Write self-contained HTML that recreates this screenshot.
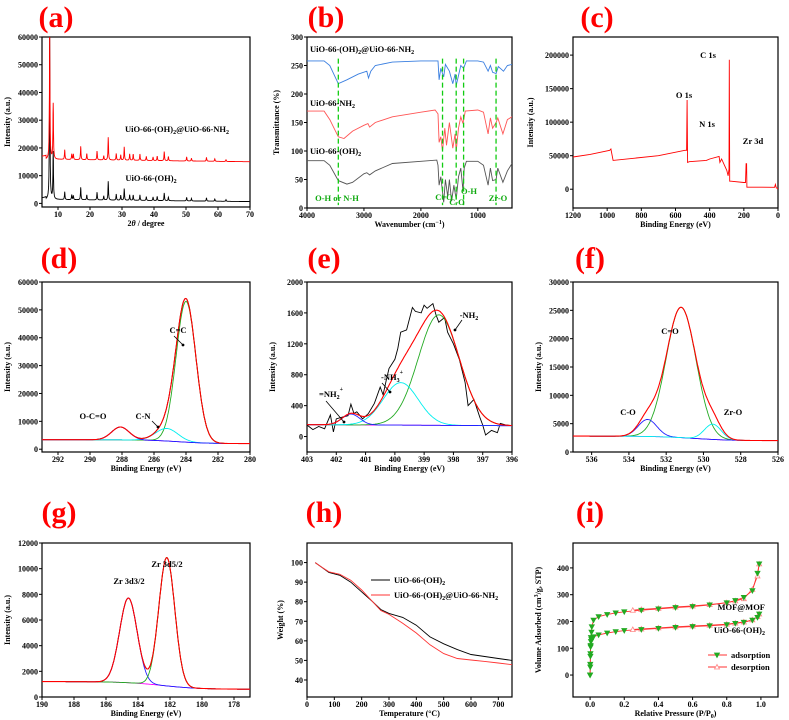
<!DOCTYPE html>
<html><head><meta charset="utf-8"><style>
body{margin:0;background:#fff;width:789px;height:720px;overflow:hidden}
svg{display:block;font-family:"Liberation Serif",serif;font-weight:bold}
</style></head><body>
<svg id="fig" width="789" height="720" viewBox="0 0 789 720"></svg>
<script>
// ===== DATA =====
const xrdPeaks=[7.4,8.5,12.1,14.3,14.8,17.1,19,22.2,24.3,25.7,28.2,29.6,30.7,32.4,33.5,35.6,37.6,39.7,41,43.2,44.5,50.2,51.7,56.4,59,62.5];
const xrdBlack=[60000,17000,2800,1800,1500,4500,1800,2800,1500,6800,2200,1800,4200,2000,1900,2000,1400,1300,1500,2800,1300,1300,900,1200,800,600];
const xrdRed=[46000,20000,3500,2000,2000,4800,2200,3200,1500,8200,2400,1900,4800,2300,2200,2300,1500,1300,1600,3300,1500,1500,1000,1400,900,600];
const ftirBlueX=[4000,3700,3600,3450,3300,3100,2950,2920,2880,2800,2500,2000,1700,1680,1650,1600,1570,1500,1440,1400,1380,1300,1250,1200,1000,900,820,780,740,680,640,550,480,400];
const ftirBlueY=[258,258,250,218,225,235,240,228,240,250,256,258,258,225,245,230,252,240,218,235,215,250,245,258,258,256,240,250,238,236,248,240,250,252];
const ftirRedX=[4000,3700,3600,3450,3350,3200,3000,2930,2900,2800,2500,2000,1750,1700,1680,1650,1620,1580,1550,1500,1440,1400,1380,1340,1300,1260,1220,1000,900,820,780,740,680,650,560,480,400];
const ftirRedY=[170,170,155,125,122,135,145,148,142,150,160,168,172,165,115,125,100,140,110,150,105,130,100,140,160,148,170,172,168,130,158,140,150,158,130,155,160];
const ftirBlackX=[4000,3700,3600,3450,3300,3200,3000,2950,2900,2800,2500,2000,1720,1700,1680,1650,1600,1570,1530,1500,1460,1420,1380,1340,1300,1260,1240,1200,1000,900,820,780,740,680,650,560,480,400];
const ftirBlackY=[83,83,75,48,42,45,60,62,58,65,78,82,84,75,40,55,10,50,20,50,12,40,15,55,70,30,70,82,82,75,40,70,48,50,70,45,65,78];
const ftirMarks=[3450,1620,1380,1250,680];
const surveyX=[1200,1100,985,978,965,700,545,535,532,529,520,420,400,345,340,330,300,292,287,285,283,275,200,190,187,184,182,100,20,15,10,0];
const surveyY=[48000,52000,58000,60000,43000,50000,58000,58000,133000,40000,41000,43000,45000,49000,40000,45000,28000,20000,30000,193000,12000,12000,10000,10000,38000,38000,3000,3000,2800,7000,2000,1000];
const dCenters=[284,285.2,288.1], dHeights=[50500,4500,4600], dWidths=[0.62,0.7,0.55];
const eCenters=[398.5,399.8,401.5], eHeights=[1430,550,140], eWidths=[0.7,0.6,0.3];
const eRawX=[403,402.8,402.6,402.4,402.2,402.1,402.0,401.8,401.6,401.5,401.4,401.3,401.1,400.9,400.7,400.5,400.4,400.3,400.2,400.0,399.9,399.8,399.6,399.4,399.3,399.1,399.0,398.9,398.7,398.6,398.5,398.3,398.2,398.0,397.8,397.6,397.5,397.3,397.1,397.0,396.9,396.7,396.5,396.4,396.2,396];
const eRawY=[150,90,130,100,280,60,230,250,270,420,300,320,230,300,430,640,540,720,880,1000,1140,1350,1380,1670,1620,1600,1700,1660,1720,1580,1480,1540,1350,1200,1000,700,400,480,250,150,20,80,50,170,150,140];
const fCenters=[531.2,533,529.5], fHeights=[23000,3000,2700], fWidths=[0.8,0.5,0.45];
const gCenters=[184.6,182.2], gHeights=[6600,10000], gWidths=[0.55,0.5];
const tgaT=[30,50,80,120,160,200,240,270,300,350,400,450,500,550,600,650,700,750];
const tgaBlack=[100,98,95,93.5,90,85,80,76,74,72,68,62,58.5,55.5,53,52,51,50];
const tgaRed=[100,98,95.3,94,91,86,80,75.5,73.5,69,64,58,53.5,51,50.2,49.5,48.7,47.8];
const pAds=[0,0.001,0.002,0.003,0.005,0.008,0.01,0.02,0.05,0.1,0.15,0.2,0.3,0.4,0.5,0.6,0.7,0.8,0.85,0.9,0.95,0.98,0.99];
const mofAds=[0,30,70,110,140,160,180,205,218,226,232,236,242,247,252,256,262,270,278,290,315,380,415];
const uioAds=[0,40,80,105,125,132,137,143,150,157,162,166,170,174,178,181,184,188,193,197,205,215,228];
const pDes=[0.99,0.98,0.95,0.9,0.85,0.8,0.7,0.6,0.5,0.4,0.3,0.25];
const mofDes=[415,370,320,285,277,270,263,258,254,249,245,242];
const uioDes=[228,218,206,198,194,190,186,183,180,176,172,170];

// ===== helpers =====
const S='http://www.w3.org/2000/svg', fig=document.getElementById('fig');
function mk(tag,attrs,parent){const e=document.createElementNS(S,tag);for(const k in attrs)e.setAttribute(k,attrs[k]);(parent||fig).appendChild(e);return e;}
function txt(x,y,s,size,opts,name){const e=mk('text',Object.assign({x:x,y:y,'font-size':size},opts||{}));e.innerHTML=s;
 
 
 return e;}
function axes(p){
 p.sx=v=>p.x0+(v-p.xmin)/(p.xmax-p.xmin)*(p.x1-p.x0);
 p.sy=v=>p.y1-(v-p.ymin)/(p.ymax-p.ymin)*(p.y1-p.y0);
 const c=mk('clipPath',{id:'c'+p.id});mk('rect',{x:p.x0,y:p.y0,width:p.x1-p.x0,height:p.y1-p.y0},c);
 const r=mk('rect',{x:p.x0,y:p.y0,width:p.x1-p.x0,height:p.y1-p.y0,fill:'none',stroke:'#000','stroke-width':1.2});
 
 
 p.xt.forEach(v=>{const X=p.sx(v);mk('line',{x1:X,x2:X,y1:p.y1,y2:p.y1+3,stroke:'#000'});
  txt(X,p.y1+10,String(v),8,{'text-anchor':'middle'},p.id+'-x-tick-label');});
 p.yt.forEach(v=>{const Y=p.sy(v);mk('line',{x1:p.x0-3,x2:p.x0,y1:Y,y2:Y,stroke:'#000'});
  txt(p.x0-4,Y+3,String(v),8,{'text-anchor':'end'},p.id+'-y-tick-label');});
 txt((p.x0+p.x1)/2,p.y1+19,p.xl,8,{'text-anchor':'middle'},p.id+'-x-axis-title');
 txt(0,0,p.yl,8,{'text-anchor':'middle',transform:`translate(${p.x0-(p.ylo||32)},${(p.y0+p.y1)/2}) rotate(-90)`},p.id+'-y-axis-title');
 txt(p.lx,p.ly,p.lab,30,{fill:'#f00','text-anchor':'middle'},p.id+'-panel-label');
 return p;}
function line(p,xs,ys,col,name,w){const d=xs.map((x,i)=>(i?'L':'M')+p.sx(x).toFixed(1)+','+p.sy(ys[i]).toFixed(1)).join('');
 const e=mk('path',{d:d,fill:'none',stroke:col,'stroke-width':w||0.9,'clip-path':'url(#c'+p.id+')'});
 
 
 return e;}
function grid(a,b,n){const o=[];for(let i=0;i<=n;i++)o.push(a+(b-a)*i/n);return o;}
const gauss=(x,c,h,w)=>h*Math.exp(-0.5*((x-c)/w)**2);
const step=(x,c,lo,hi,w)=>lo+(hi-lo)/(1+Math.exp(-(x-c)/w));
function label(x,y,s,size,name,anchor){return txt(x,y,s,size,{fill:'#000','text-anchor':anchor||'middle'},name);}
function arrow(x1,y1,x2,y2,name){const e=mk('line',{x1:x1,y1:y1,x2:x2,y2:y2,stroke:'#000','stroke-width':0.8});
 
 
 mk('circle',{cx:x2,cy:y2,r:1.4});}
const sub=s=>'<tspan font-size="6" dy="2">'+s+'</tspan><tspan dy="-2">\u200b</tspan>';

// ===== (a) XRD =====
const A=axes({id:'a',x0:42,x1:250,y0:37,y1:207,xmin:5,xmax:70,ymin:-1300,ymax:60000,xt:[10,20,30,40,50,60,70],yt:[0,10000,20000,30000,40000,50000,60000],xl:'2<tspan font-style="italic">θ</tspan> / degree',yl:'Intensity (a.u.)',lab:'(a)',lx:56,ly:27});
const ax=grid(5,70,1300);
line(A,ax,ax.map(x=>(x<6.3?2000:1500-12*x)+xrdPeaks.reduce((s,c,i)=>s+xrdBlack[i]/(1+((x-c)/0.1)**2),0)),'#000','xrd-uio66-oh2-line');
line(A,ax,ax.map(x=>(x<6.3?17000:16000-14*x)+xrdPeaks.reduce((s,c,i)=>s+xrdRed[i]/(1+((x-c)/0.1)**2),0)),'#f00','xrd-mof-at-mof-line');
label(177,132,'UiO-66-(OH)'+sub('2')+'@UiO-66-NH'+sub('2'),8.5,'xrd-red-label');
label(151,181,'UiO-66-(OH)'+sub('2'),8.5,'xrd-black-label');

// ===== (b) FTIR =====
const B=axes({id:'b',x0:307,x1:512,y0:37,y1:208,xmin:4000,xmax:400,ymin:0,ymax:300,xt:[4000,3000,2000,1000],yt:[0,50,100,150,200,250,300],xl:'Wavenumber (cm<tspan font-size="6" dy="-3">−1</tspan><tspan dy="3">)</tspan>',yl:'Transmittance (%)',lab:'(b)',lx:326,ly:27,ylo:28});
line(B,ftirBlueX,ftirBlueY,'#3a7fe0','ftir-blue-line');
line(B,ftirRedX,ftirRedY,'#f55','ftir-red-line');
line(B,ftirBlackX,ftirBlackY,'#555','ftir-black-line');
ftirMarks.forEach(w=>{const e=mk('line',{x1:B.sx(w),x2:B.sx(w),y1:B.sy(262),y2:B.sy(5),stroke:'#1c1','stroke-width':1.3,'stroke-dasharray':'5,3'});
 
 });
label(310,52,'UiO-66-(OH)'+sub('2')+'@UiO-66-NH'+sub('2'),8.5,'ftir-blue-label','start');
label(310,106,'UiO-66-NH'+sub('2'),8.5,'ftir-red-label','start');
label(310,154,'UiO-66-(OH)'+sub('2'),8.5,'ftir-black-label','start');
const gl=(x,y,s,n)=>txt(x,y,s,8.5,{fill:'#1a1','text-anchor':'middle'},n);
gl(337,201,'O-H or N-H','ftir-oh-nh-label');gl(444,200,'C=O','ftir-co-label');gl(457,205,'C-O','ftir-c-o-label');
gl(469,194,'O-H','ftir-oh-label');gl(498,201,'Zr-O','ftir-zro-label');

// ===== (c) XPS survey =====
const C=axes({id:'c',x0:573,x1:778,y0:37,y1:208,xmin:1200,xmax:0,ymin:-28000,ymax:227000,xt:[1200,1000,800,600,400,200,0],yt:[0,50000,100000,150000,200000],xl:'Binding  Energy (eV)',yl:'Intensity (a.u.)',lab:'(c)',lx:597,ly:27,ylo:40});
line(C,surveyX,surveyY,'#f00','xps-survey-line');
label(684,98,'O 1s',8.5,'o1s-label');label(708,58,'C 1s',8.5,'c1s-label');
label(707,127,'N 1s',8.5,'n1s-label');label(753,144,'Zr 3d',8.5,'zr3d-label');

function fitPanel(P,xs,base,cs,hs,ws,cols,pre){
 const comps=cs.map((c,i)=>xs.map(x=>base(x)+gauss(x,c,hs[i],ws[i])));
 line(P,xs,xs.map(base),'#f0f',pre+'-baseline');
 comps.forEach((cv,i)=>line(P,xs,cv,cols[i],pre+'-component-'+(i+1)));
 line(P,xs,xs.map(x=>base(x)+cs.reduce((s,c,i)=>s+gauss(x,c,hs[i],ws[i]),0)),'#f00',pre+'-envelope',1.1);
}
// ===== (d) C1s =====
const D=axes({id:'d',x0:42,x1:250,y0:282,y1:452,xmin:293,xmax:280,ymin:-1000,ymax:60000,xt:[292,290,288,286,284,282,280],yt:[0,10000,20000,30000,40000,50000,60000],xl:'Binding  Energy (eV)',yl:'Intensity (a.u.)',lab:'(d)',lx:59,ly:268});
const dx=grid(293,280,400);
line(D,dx,dx.map(x=>step(x,284.5,2000,3400,1)+dCenters.reduce((s,c,i)=>s+gauss(x,c,dHeights[i],dWidths[i]),0)),'#000','c1s-raw-line');
fitPanel(D,dx,x=>step(x,284.5,2000,3400,1),dCenters,dHeights,dWidths,['#2a2','#0ee','#22f'],'c1s');
label(178,333,'C=C',8.5,'cc-label');arrow(174,336,183,345,'cc-arrow');
label(93,419,'O-C=O',8.5,'ocoo-label');label(143,419,'C-N',8.5,'cn-label');arrow(152,421,158,427,'cn-arrow');

// ===== (e) N1s =====
const E=axes({id:'e',x0:307,x1:512,y0:282,y1:452,xmin:403,xmax:396,ymin:-200,ymax:2000,xt:[403,402,401,400,399,398,397,396],yt:[0,400,800,1200,1600,2000],xl:'Binding  Energy (eV)',yl:'Intensity (a.u.)',lab:'(e)',lx:324,ly:268});
line(E,eRawX,eRawY,'#000','n1s-raw-line');
fitPanel(E,grid(403,396,300),x=>140+(x-396)*2,eCenters,eHeights,eWidths,['#2a2','#0ee','#22f'],'n1s');
label(469,318,'-NH'+sub('2'),8.5,'nh2-label');arrow(462,320,455,330,'nh2-arrow');
label(392,380,'-NH'+sub('3')+'<tspan font-size="6" dy="-6">+</tspan>',8.5,'nh3-label');arrow(382,383,390,392,'nh3-arrow');
label(331,397,'=NH'+sub('2')+'<tspan font-size="6" dy="-6">+</tspan>',8.5,'nh2plus-label');arrow(326,401,344,422,'nh2plus-arrow');

// ===== (f) O1s =====
const F=axes({id:'f',x0:573,x1:778,y0:282,y1:452,xmin:537,xmax:526,ymin:0,ymax:30000,xt:[536,534,532,530,528,526],yt:[0,5000,10000,15000,20000,25000,30000],xl:'Binding  Energy (eV)',yl:'Intensity (a.u.)',lab:'(f)',lx:590,ly:268});
fitPanel(F,grid(537,526,400),x=>step(x,530.5,2000,2800,1),fCenters,fHeights,fWidths,['#2a2','#22f','#0ee'],'o1s');
label(670,334,'C=O',8.5,'c-o-double-label');label(628,415,'C-O',8.5,'c-o-label');label(733,415,'Zr-O',8.5,'zr-o-label');

// ===== (g) Zr3d =====
const G=axes({id:'g',x0:42,x1:250,y0:543,y1:697,xmin:190,xmax:177,ymin:0,ymax:12000,xt:[190,188,186,184,182,180,178],yt:[0,2000,4000,6000,8000,10000,12000],xl:'Binding  Energy (eV)',yl:'Intensity (a.u.)',lab:'(g)',lx:59,ly:522});
const gx=grid(190,177,400);
line(G,gx,gx.map(x=>step(x,182.5,600,1200,1.2)+gCenters.reduce((s,c,i)=>s+gauss(x,c,gHeights[i],gWidths[i]),0)),'#000','zr3d-raw-line');
fitPanel(G,gx,x=>step(x,182.5,600,1200,1.2),gCenters,gHeights,gWidths,['#22f','#2a2'],'zr3d');
label(129,584,'Zr 3d3/2',8.5,'zr3d32-label');label(167,567,'Zr 3d5/2',8.5,'zr3d52-label');

// ===== (h) TGA =====
const H=axes({id:'h',x0:307,x1:512,y0:543,y1:697,xmin:0,xmax:750,ymin:31.3,ymax:110,xt:[0,100,200,300,400,500,600,700],yt:[40,50,60,70,80,90,100],xl:'Temperature (°C)',yl:'Weight (%)',lab:'(h)',lx:324,ly:522,ylo:24});
line(H,tgaT,tgaBlack,'#000','tga-uio66-oh2-line');
line(H,tgaT,tgaRed,'#f33','tga-mof-at-mof-line');
mk('line',{x1:371,x2:390,y1:580,y2:580,stroke:'#000'});
mk('line',{x1:371,x2:390,y1:595,y2:595,stroke:'#f33'});
label(394,583,'UiO-66-(OH)'+sub('2'),8.5,'tga-legend-black','start');
label(394,598,'UiO-66-(OH)'+sub('2')+'@UiO-66-NH'+sub('2'),8.5,'tga-legend-red','start');

// ===== (i) BET =====
const I=axes({id:'i',x0:573,x1:778,y0:543,y1:697,xmin:-0.1,xmax:1.1,ymin:-82,ymax:493,xt:['0.0','0.2','0.4','0.6','0.8','1.0'],yt:[0,100,200,300,400],xl:'Relative Pressure (P/P<tspan font-size="6" dy="2">0</tspan><tspan dy="-2">)</tspan>',yl:'Volume Adsorbed (cm<tspan font-size="6" dy="-3">3</tspan><tspan dy="3">/g, STP)</tspan>',lab:'(i)',lx:590,ly:522});
function tri(X,Y,ads,name){
 const pts=ads?`${X-2.5},${Y-2} ${X+2.5},${Y-2} ${X},${Y+2.5}`:`${X-2.5},${Y+2} ${X+2.5},${Y+2} ${X},${Y-2.5}`;
 const e=mk('polygon',{points:pts,fill:ads?'#2a2':'#fff',stroke:ads?'#2a2':'#f88','stroke-width':0.8});
 
 }
function marks(xs,ys,ads,name){xs.forEach((x,i)=>tri(I.sx(x),I.sy(ys[i]),ads,name));}
line(I,pAds,mofAds,'#f33','mof-adsorption-line');line(I,pDes,mofDes,'#f33','mof-desorption-line');
line(I,pAds,uioAds,'#f33','uio-adsorption-line');line(I,pDes,uioDes,'#f33','uio-desorption-line');
marks(pDes,mofDes,false,'mof-desorption-point');marks(pDes,uioDes,false,'uio-desorption-point');
marks(pAds,mofAds,true,'mof-adsorption-point');marks(pAds,uioAds,true,'uio-adsorption-point');
label(765,610,'MOF@MOF',8.5,'mof-label','end');label(765,633,'UiO-66-(OH)'+sub('2'),8.5,'uio-label','end');
mk('line',{x1:708,x2:727,y1:655,y2:655,stroke:'#f33'});tri(717,655,true,'legend-adsorption-marker');
mk('line',{x1:708,x2:727,y1:667,y2:667,stroke:'#f33'});tri(717,667,false,'legend-desorption-marker');
label(731,658,'adsorption',8.5,'legend-adsorption','start');label(731,670,'desorption',8.5,'legend-desorption','start');
</script>
</body></html>
